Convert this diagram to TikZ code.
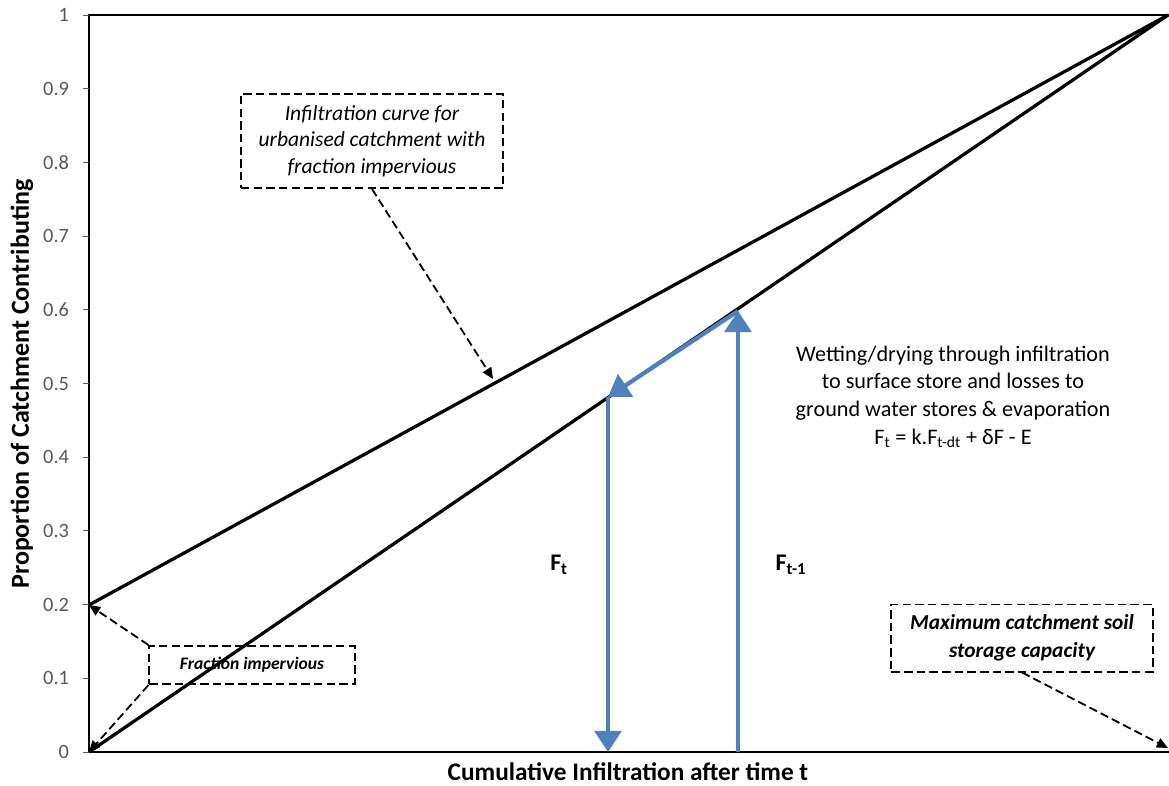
\documentclass[tikz,border=0pt]{standalone}
\usepackage{fontspec}
\setmainfont{Carlito}
\usetikzlibrary{arrows.meta}
\definecolor{flowblue}{HTML}{4F81BD}
\definecolor{tickgray}{HTML}{595959}

\begin{document}
\begin{tikzpicture}[x=0.025cm, y=-0.025cm,
  axis/.style = {line width=2pt, black},
  curve/.style = {line width=2.3pt, black},
  note/.style = {rectangle, draw, dash pattern=on 6pt off 3pt, line width=1.4pt, align=center, inner sep=0pt},
  pointer/.style = {dash pattern=on 6pt off 3pt, line width=1.3pt, -{Triangle[length=8pt,width=7pt]}},
  flow/.style = {line width=3pt, flowblue, -{Triangle[length=15pt,width=19pt]}}]
\useasboundingbox (0,0) rectangle (1169,785);
% axes and frame
\coordinate (O) at (89,752);
\coordinate (imp) at (89,605);
\coordinate (top) at (1168,15);
\draw[axis] (1169,15) -- (89,15) -- (O) -- (1169,752);
\foreach \v [count=\j from 0] in {0,0.1,0.2,0.3,0.4,0.5,0.6,0.7,0.8,0.9,1} {
  \draw[tickgray, semithick] (83,{752-73.7*\j}) -- (89,{752-73.7*\j});
  \node[anchor=east, text=tickgray, font=\fontsize{14.5}{16}\selectfont] (t\j) at (74,{752-73.7*\j}) {\v};
}
\node[inner sep=0pt, font=\bfseries\fontsize{18}{21}\selectfont] (xlab) at (628,772) {Cumulative Infiltration after time t};
\node[rotate=90, font=\bfseries\fontsize{18.5}{21}\selectfont] (ylab) at (22,384) {Proportion of Catchment Contributing};
% infiltration curves
\draw[curve] (imp) -- (top);
\draw[curve] (O) -- (top);
% wetting / drying steps
\coordinate (ft) at (608,397);
\coordinate (ft0) at (608,752);
\coordinate (fp) at (738,311);
\coordinate (fp0) at (738,752);
\draw[flow] (ft) -- (ft0);
\draw[flow] (fp0) -- (fp);
\draw[flow] (fp) -- (ft);
\node[font=\bfseries\fontsize{17}{20}\selectfont] (ftlab) at (559,565) {F\textsubscript{t}};
\node[font=\bfseries\fontsize{17}{20}\selectfont] (fplab) at (791,565) {F\textsubscript{t-1}};
\node[align=center, font=\fontsize{15.8}{19.6}\selectfont] (wet) at (953,397)
  {Wetting/drying through infiltration\\to surface store and losses to\\ground water stores \& evaporation\\F\textsubscript{t} = k.F\textsubscript{t-dt} + δF - E};
% notes
\node[note, minimum width=6.55cm, minimum height=2.35cm, font=\itshape\fontsize{15.3}{19}\selectfont] (curvebox) at (372,141)
  {Infiltration curve for\\urbanised catchment with\\fraction impervious};
\node[note, minimum width=5.125cm, minimum height=0.95cm, font=\bfseries\itshape\fontsize{12.5}{14}\selectfont] (fracbox) at (252,665)
  {Fraction impervious};
\node[note, minimum width=6.525cm, minimum height=1.675cm, font=\bfseries\itshape\fontsize{15.2}{19.8}\selectfont] (maxbox) at (1022,638)
  {Maximum catchment soil\\storage capacity};
\coordinate (upt) at (493,379);
\coordinate (smax) at (1168,748);
\draw[pointer] (curvebox.south) -- (upt);
\draw[pointer] (fracbox.north west) -- (imp);
\draw[pointer] (fracbox.south west) -- (O);
\draw[pointer] (maxbox.south) -- (smax);
\end{tikzpicture}
\end{document}
